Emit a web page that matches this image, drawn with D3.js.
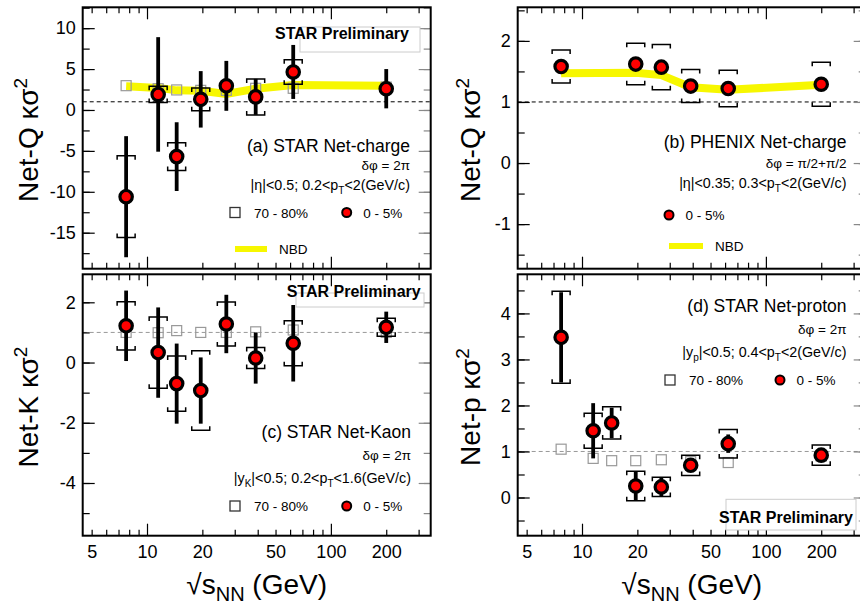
<!DOCTYPE html>
<html>
<head>
<meta charset="utf-8">
<script src="https://cdn.jsdelivr.net/npm/d3@7"></script>
<style>
  body { margin: 0; background: #fff; }
  svg { display: block; }
  text { font-family: "Liberation Sans", Arial, Helvetica, sans-serif; fill: #000; }
</style>
</head>
<body>
<svg id="chart" width="860" height="606"></svg>
<script>
// beam energies (GeV)
const energies = [7.7, 11.5, 14.5, 19.6, 27, 39, 62.4, 200];
const phenixEnergies = [7.7, 19.6, 27, 39, 62.4, 200];

// (a) STAR net-charge
const netQCentral = [-10.6, 1.9, -5.7, 1.3, 2.95, 1.6, 4.65, 2.6];
const netQStat = [7.4, 7.0, 4.2, 3.45, 3.05, 2.2, 3.3, 2.4];
const netQSys = [5.0, 1.0, 1.7, 1.4, 0, 2.2, 1.5, 0];
const netQPeripheral = [2.97, 2.6, 2.45, 2.4, 2.4, 2.65, 2.65, 2.8];
const netQNbd = [2.9, 2.7, 2.4, 2.35, 1.95, 2.6, 3.05, 2.95];

// (b) PHENIX net-charge
const phenixCentral = [1.58, 1.62, 1.57, 1.26, 1.22, 1.29];
const phenixStat = [0.1, 0.06, 0.05, 0.05, 0.05, 0.04];
const phenixSys = [0.27, 0.34, 0.37, 0.27, 0.3, 0.36];
const phenixNbd = [1.47, 1.48, 1.44, 1.24, 1.2, 1.28];

// (c) STAR net-kaon
const netKCentral = [1.22, 0.33, -0.70, -0.93, 1.28, 0.15, 0.64, 1.17];
const netKStat = [1.17, 1.5, 1.33, 1.1, 0.97, 0.85, 1.27, 0.52];
const netKSys = [0.8, 1.18, 0.92, 1.32, 0.73, 0.35, 0.75, 0.3];
const netKPeripheral = [1.0, 0.99, 1.06, 1.0, 1.0, 1.02, 1.08, 1.0];

// (d) STAR net-proton
const netPCentral = [3.48, 1.45, 1.62, 0.25, 0.23, 0.70, 1.17, 0.92];
const netPStat = [0.98, 0.6, 0.33, 0.32, 0.2, 0.12, 0.2, 0.1];
const netPSys = [1.0, 0.38, 0.35, 0.32, 0.21, 0.22, 0.31, 0.22];
const netPPeripheral = [1.05, 0.85, 0.8, 0.8, 0.82, 0.78, 0.76, 0.9];

// tick labels
const xTickLabels = [5, 10, 20, 50, 100, 200];
const xMajorTicks = [10, 100];
const xMinorTicks = [5, 6, 7, 8, 9, 20, 30, 40, 50, 60, 70, 80, 90, 200, 300];
const netQTicks = [-15, -10, -5, 0, 5, 10];
const phenixTicks = [-1, 0, 1, 2];
const netKTicks = [-4, -2, 0, 2];
const netPTicks = [0, 1, 2, 3, 4];

const xDomain = [4.47, 349];
const panelWidth = 348;
const FONT = "Liberation Sans, Arial, Helvetica, sans-serif";

const svg = d3.select("#chart");
svg.append("rect").attr("width", 860).attr("height", 606).attr("fill", "#fff");

const panels = [
    {
        left: 82.7, top: 7.3, bottom: 268.7, yDomain: [-19.4, 12.55], yTicks: netQTicks, yMinor: 2.5,
        energies: energies, central: netQCentral, stat: netQStat, sys: netQSys,
        peripheral: netQPeripheral, nbd: netQNbd, refColor: "#000",
        yTitle: "Net-Q κσ", titleX: 38, xLabels: false,
        prelim: {box: [300, 27, 120, 25], text: [275, 39]},
        label: {x: 410, lines: [152, 170, 190], name: "(a) STAR Net-charge", dphi: "δφ = 2π",
            cut: [["|η|<0.5; 0.2<p", null], ["T", "sub"], ["<2(GeV/c)", null]]},
        legend: {square: [235, 212.5], circle: [346.7, 212.5], nbd: [235, 267, 249]}
    },
    {
        left: 517.7, top: 7.3, bottom: 268.7, yDomain: [-1.73, 2.55], yTicks: phenixTicks, yMinor: 0.5,
        energies: phenixEnergies, central: phenixCentral, stat: phenixStat, sys: phenixSys,
        peripheral: null, nbd: phenixNbd, refColor: "#000",
        yTitle: "Net-Q κσ", titleX: 480, xLabels: false,
        prelim: null,
        label: {x: 846.5, lines: [148, 168, 188], name: "(b) PHENIX Net-charge", dphi: "δφ = π/2+π/2",
            cut: [["|η|<0.35; 0.3<p", null], ["T", "sub"], ["<2(GeV/c)", null]]},
        legend: {square: null, circle: [669, 215], nbd: [669, 703, 246]}
    },
    {
        left: 82.7, top: 274.3, bottom: 535.7, yDomain: [-5.75, 2.93], yTicks: netKTicks, yMinor: 1,
        energies: energies, central: netKCentral, stat: netKStat, sys: netKSys,
        peripheral: netKPeripheral, nbd: null, refColor: "#999",
        yTitle: "Net-K κσ", titleX: 38, xLabels: true,
        prelim: {box: [296, 293, 128, 14], text: [286.7, 297.3]},
        label: {x: 411, lines: [438, 460, 483], name: "(c) STAR Net-Kaon", dphi: "δφ = 2π",
            cut: [["|y", null], ["K", "sub"], ["|<0.5; 0.2<p", "up"], ["T", "sub"], ["<1.6(GeV/c)", "up"]]},
        legend: {square: [235, 506], circle: [346.7, 506], nbd: null}
    },
    {
        left: 517.7, top: 274.3, bottom: 535.7, yDomain: [-0.83, 4.85], yTicks: netPTicks, yMinor: 0.5,
        energies: energies, central: netPCentral, stat: netPStat, sys: netPSys,
        peripheral: netPPeripheral, nbd: null, refColor: "#999",
        yTitle: "Net-p κσ", titleX: 480, xLabels: true,
        prelim: {box: [726, 499.3, 130, 30.7], text: [719, 523.3]},
        label: {x: 846.5, lines: [311.7, 334, 357.3], name: "(d) STAR Net-proton", dphi: "δφ = 2π",
            cut: [["|y", null], ["p", "sub"], ["|<0.5; 0.4<p", "up"], ["T", "sub"], ["<2(GeV/c)", "up"]]},
        legend: {square: [670, 380], circle: [780, 380], nbd: null}
    }
];

function styleAxis(sel, color) {
    sel.select(".domain").remove();
    sel.attr("color", color).attr("font-family", FONT).attr("font-size", 18);
    sel.selectAll(".tick line").attr("stroke-width", 1.2);
}

function drawPanel(p) {
    const right = p.left + panelWidth;
    const x = d3.scaleLog().domain(xDomain).range([p.left, right]);
    const y = d3.scaleLinear().domain(p.yDomain).range([p.bottom, p.top]);
    const g = svg.append("g");

    // reference line at 1
    g.append("line")
        .attr("x1", p.left).attr("x2", right)
        .attr("y1", y(1)).attr("y2", y(1))
        .attr("stroke", p.refColor).attr("stroke-width", 1)
        .attr("stroke-dasharray", "4,3");

    // NBD band
    if (p.nbd) {
        g.append("path")
            .datum(p.nbd.map((v, i) => [p.energies[i], v]))
            .attr("d", d3.line().x(d => x(d[0])).y(d => y(d[1])))
            .attr("fill", "none")
            .attr("stroke", "#f7f700")
            .attr("stroke-width", 8);
    }

    // 70-80% open squares
    if (p.peripheral) {
        g.selectAll("rect.periph")
            .data(p.peripheral.map((v, i) => [p.energies[i], v]))
            .join("rect")
            .attr("class", "periph")
            .attr("x", d => x(d[0]) - 5)
            .attr("y", d => y(d[1]) - 5)
            .attr("width", 10).attr("height", 10)
            .attr("fill", "none")
            .attr("stroke", "#999")
            .attr("stroke-width", 1.2);
    }

    const pts = p.central.map((v, i) => ({e: p.energies[i], v: v, stat: p.stat[i], sys: p.sys[i]}));

    // statistical errors
    g.selectAll("line.stat")
        .data(pts)
        .join("line")
        .attr("class", "stat")
        .attr("x1", d => x(d.e)).attr("x2", d => x(d.e))
        .attr("y1", d => y(d.v + d.stat)).attr("y2", d => y(d.v - d.stat))
        .attr("stroke", "#000").attr("stroke-width", 3.8);

    // systematic brackets
    const hw = 9, t = 4;
    g.selectAll("path.sys")
        .data(pts.filter(d => d.sys > 0))
        .join("path")
        .attr("class", "sys")
        .attr("d", d => {
            const cx = x(d.e), yt = y(d.v + d.sys), yb = y(d.v - d.sys);
            return `M ${cx - hw} ${yt + t} L ${cx - hw} ${yt} L ${cx + hw} ${yt} L ${cx + hw} ${yt + t}` +
                ` M ${cx - hw} ${yb - t} L ${cx - hw} ${yb} L ${cx + hw} ${yb} L ${cx + hw} ${yb - t}`;
        })
        .attr("fill", "none")
        .attr("stroke", "#000")
        .attr("stroke-width", 1.5);

    // 0-5% markers
    g.selectAll("circle.central")
        .data(pts)
        .join("circle")
        .attr("class", "central")
        .attr("cx", d => x(d.e)).attr("cy", d => y(d.v))
        .attr("r", 6.2)
        .attr("fill", "#f00")
        .attr("stroke", "#000")
        .attr("stroke-width", 3.2);

    // axes ticks, all pointing inward
    const yMinor = d3.range(Math.ceil(p.yDomain[0] / p.yMinor) * p.yMinor, p.yDomain[1], p.yMinor);
    g.append("g").attr("transform", `translate(0,${p.top})`)
        .call(d3.axisTop(x).tickValues(xMinorTicks).tickSize(-6).tickFormat(""))
        .call(s => styleAxis(s, "#000"));
    g.append("g").attr("transform", `translate(0,${p.top})`)
        .call(d3.axisTop(x).tickValues(xMajorTicks).tickSize(-12).tickFormat(""))
        .call(s => styleAxis(s, "#000"));
    g.append("g").attr("transform", `translate(0,${p.bottom})`)
        .call(d3.axisBottom(x).tickValues(xMinorTicks).tickSize(-6).tickFormat(""))
        .call(s => styleAxis(s, "#000"));
    g.append("g").attr("transform", `translate(0,${p.bottom})`)
        .call(d3.axisBottom(x).tickValues(xMajorTicks).tickSize(-12).tickFormat(""))
        .call(s => styleAxis(s, "#000"));
    if (p.xLabels) {
        g.append("g").attr("transform", `translate(0,${p.bottom})`)
            .call(d3.axisBottom(x).tickValues(xTickLabels).tickSize(0).tickPadding(10).tickFormat(d => String(d)))
            .call(s => styleAxis(s, "#000"));
    }
    g.append("g").attr("transform", `translate(${p.left},0)`)
        .call(d3.axisLeft(y).tickValues(yMinor).tickSize(-7).tickFormat(""))
        .call(s => styleAxis(s, "#000"));
    g.append("g").attr("transform", `translate(${p.left},0)`)
        .call(d3.axisLeft(y).tickValues(p.yTicks).tickSize(-12).tickPadding(7).tickFormat(d => String(d)))
        .call(s => styleAxis(s, "#000"));
    g.append("g").attr("transform", `translate(${right},0)`)
        .call(d3.axisRight(y).tickValues(yMinor).tickSize(-7).tickFormat(""))
        .call(s => styleAxis(s, "#888"));
    g.append("g").attr("transform", `translate(${right},0)`)
        .call(d3.axisRight(y).tickValues(p.yTicks).tickSize(-12).tickFormat(""))
        .call(s => styleAxis(s, "#888"));

    // frame
    g.append("rect")
        .attr("x", p.left).attr("y", p.top)
        .attr("width", panelWidth).attr("height", p.bottom - p.top)
        .attr("fill", "none").attr("stroke", "#000").attr("stroke-width", 2);

    // y title
    const yt = g.append("text")
        .attr("transform", `translate(${p.titleX},${(p.top + p.bottom) / 2 + 2}) rotate(-90)`)
        .attr("text-anchor", "middle")
        .attr("font-size", 28)
        .text(p.yTitle);
    yt.append("tspan").attr("dy", -11).attr("font-size", 19).text("2");

    // x title
    if (p.xLabels) {
        const xt = g.append("text")
            .attr("x", (p.left + right) / 2).attr("y", 594)
            .attr("text-anchor", "middle")
            .attr("font-size", 28)
            .text("√s");
        xt.append("tspan").attr("dy", 7).attr("font-size", 20).text("NN");
        xt.append("tspan").attr("dy", -7).text(" (GeV)");
    }

    // STAR Preliminary
    if (p.prelim) {
        g.append("rect")
            .attr("x", p.prelim.box[0]).attr("y", p.prelim.box[1])
            .attr("width", p.prelim.box[2]).attr("height", p.prelim.box[3])
            .attr("fill", "#fff").attr("stroke", "#ccc").attr("stroke-width", 1);
        g.append("text")
            .attr("x", p.prelim.text[0]).attr("y", p.prelim.text[1])
            .attr("font-size", 16).attr("font-weight", "bold")
            .text("STAR Preliminary");
    }

    // panel label and cuts
    const L = p.label;
    g.append("text").attr("x", L.x).attr("y", L.lines[0])
        .attr("text-anchor", "end").attr("font-size", 17.5).text(L.name);
    g.append("text").attr("x", L.x).attr("y", L.lines[1])
        .attr("text-anchor", "end").attr("font-size", 13.5).text(L.dphi);
    const cut = g.append("text").attr("x", L.x).attr("y", L.lines[2])
        .attr("text-anchor", "end").attr("font-size", 14.3);
    let shifted = false;
    L.cut.forEach(([s, mode]) => {
        const ts = cut.append("tspan").text(s);
        if (mode === "sub") {
            ts.attr("dy", 4).attr("font-size", 10);
            shifted = true;
        } else if (shifted) {
            ts.attr("dy", -4);
            shifted = false;
        }
    });

    // legend
    const lg = p.legend;
    if (lg.square) {
        g.append("rect")
            .attr("x", lg.square[0] - 5).attr("y", lg.square[1] - 5)
            .attr("width", 10).attr("height", 10)
            .attr("fill", "none").attr("stroke", "#333").attr("stroke-width", 1.3);
        g.append("text").attr("x", lg.square[0] + 19).attr("y", lg.square[1] + 5)
            .attr("font-size", 13.5).text("70 - 80%");
    }
    g.append("circle")
        .attr("cx", lg.circle[0]).attr("cy", lg.circle[1]).attr("r", 4.5)
        .attr("fill", "#f00").attr("stroke", "#000").attr("stroke-width", 2);
    g.append("text").attr("x", lg.circle[0] + 16.5).attr("y", lg.circle[1] + 5)
        .attr("font-size", 13.5).text("0 - 5%");
    if (lg.nbd) {
        g.append("line")
            .attr("x1", lg.nbd[0]).attr("x2", lg.nbd[1])
            .attr("y1", lg.nbd[2]).attr("y2", lg.nbd[2])
            .attr("stroke", "#f7f700").attr("stroke-width", 6);
        g.append("text").attr("x", lg.nbd[1] + 12).attr("y", lg.nbd[2] + 5)
            .attr("font-size", 13.5).text("NBD");
    }
}

panels.forEach(drawPanel);
</script>
</body>
</html>
